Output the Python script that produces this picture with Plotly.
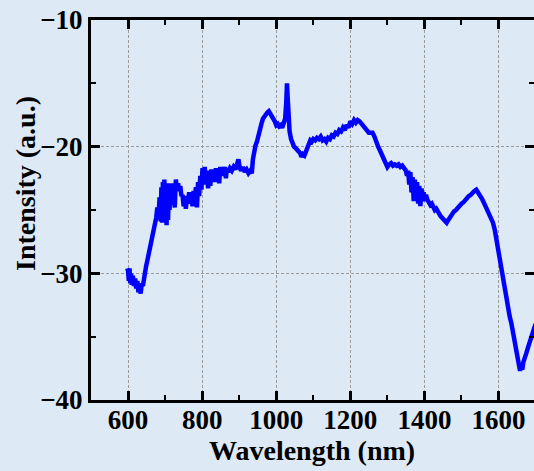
import plotly.graph_objects as go

wavelength = [598, 600, 602, 604, 606, 608, 610, 613, 616, 619, 622, 625, 628, 631, 634, 637, 640, 643, 646, 649,
              652, 655, 658, 661, 664, 667, 670, 673, 676, 679, 682, 685, 688, 690, 692, 694, 696, 698, 700, 702,
              704, 706, 708, 710, 712, 714, 716, 718, 720, 723, 726, 729, 732, 735, 738, 741, 744, 747, 750, 753,
              756, 759, 762, 765, 768, 771, 774, 777, 780, 783, 786, 789, 792, 795, 798, 801, 804, 807, 810, 813,
              816, 819, 822, 825, 828, 831, 834, 837, 840, 843, 846, 849, 852, 855, 858, 861, 864, 867, 870, 875,
              880, 885, 890, 895, 898, 901, 905, 910, 915, 920, 925, 930, 934, 937, 940, 944, 948, 952, 956, 960,
              964, 968, 972, 976, 980, 984, 988, 992, 996, 1000, 1004, 1008, 1012, 1016, 1020, 1024, 1027, 1029, 1031, 1033,
              1036, 1040, 1044, 1048, 1052, 1056, 1060, 1064, 1068, 1072, 1076, 1080, 1084, 1088, 1092, 1096, 1100, 1105, 1110, 1115,
              1120, 1125, 1130, 1135, 1140, 1145, 1150, 1155, 1160, 1165, 1170, 1175, 1180, 1185, 1190, 1195, 1200, 1205, 1210, 1215,
              1220, 1225, 1230, 1235, 1240, 1245, 1250, 1255, 1260, 1265, 1270, 1275, 1280, 1285, 1290, 1295, 1300, 1305, 1310, 1315,
              1320, 1325, 1330, 1335, 1340, 1345, 1350, 1353, 1356, 1359, 1362, 1365, 1368, 1371, 1374, 1377, 1380, 1383, 1386, 1389,
              1392, 1395, 1398, 1401, 1404, 1408, 1412, 1416, 1420, 1424, 1428, 1432, 1436, 1440, 1444, 1448, 1452, 1456, 1460, 1464,
              1468, 1472, 1476, 1480, 1485, 1490, 1495, 1500, 1505, 1510, 1515, 1520, 1525, 1530, 1535, 1540, 1545, 1550, 1555, 1560,
              1565, 1570, 1575, 1580, 1585, 1590, 1595, 1600, 1605, 1610, 1615, 1620, 1625, 1630, 1635, 1640, 1645, 1650, 1655, 1658,
              1661, 1664, 1667, 1670, 1675, 1680, 1685, 1690, 1695, 1700]

intensity = [-29.6, -29.8, -30.6, -29.6, -30.8, -30.0, -30.9, -30.2, -31.0, -30.4, -31.2, -30.6, -31.5, -30.9, -31.6, -30.8, -31.0, -30.3, -30.0, -29.4,
             -29.0, -28.6, -28.2, -27.9, -27.6, -27.0, -26.6, -26.0, -25.6, -24.8, -25.7, -24.0, -25.9, -23.2, -26.0, -22.8, -25.5, -22.6, -25.2, -23.0,
             -26.2, -23.4, -25.8, -22.9, -25.0, -23.3, -24.6, -22.9, -24.4, -23.6, -24.8, -22.6, -23.4, -22.9, -23.5, -23.1, -23.9, -23.8, -24.7, -23.9,
             -24.9, -24.0, -24.3, -23.6, -24.5, -23.9, -24.7, -23.5, -24.4, -23.2, -24.8, -22.8, -23.9, -22.3, -23.4, -21.7, -22.9, -21.6, -23.0, -21.9,
             -23.3, -22.0, -23.1, -21.8, -22.7, -21.9, -22.8, -21.7, -22.6, -21.9, -22.9, -21.6, -22.3, -21.8, -22.2, -21.6, -22.5, -21.7, -22.0, -21.7,
             -21.9, -21.6, -21.8, -21.3, -21.0, -21.6, -21.9, -21.6, -22.0, -21.8, -22.1, -21.9, -22.1, -21.0, -20.3, -19.9, -19.6, -19.0, -18.6, -18.2,
             -17.8, -17.6, -17.4, -17.3, -17.2, -17.4, -17.5, -17.8, -18.0, -18.3, -18.2, -18.4, -18.3, -18.5, -18.1, -17.8, -16.5, -15.0, -16.2, -18.0,
             -18.8, -19.4, -19.8, -20.0, -20.1, -20.2, -20.3, -20.5, -20.8, -20.6, -20.7, -20.4, -20.1, -19.7, -19.5, -19.6, -19.4, -19.5, -19.3, -19.4,
             -19.2, -19.5, -19.4, -19.6, -19.3, -19.4, -19.1, -19.2, -18.9, -19.0, -18.7, -18.8, -18.5, -18.7, -18.3, -18.5, -18.0, -18.2, -17.9, -18.1,
             -17.9, -18.0, -18.2, -18.4, -18.6, -18.8, -18.9, -18.9, -18.9, -19.2, -19.7, -20.0, -20.3, -20.6, -20.8, -21.1, -21.6, -21.4, -21.3, -21.5,
             -21.4, -21.5, -21.4, -21.6, -21.5, -21.7, -21.9, -22.3, -21.9, -23.0, -22.0, -23.6, -22.4, -24.3, -22.6, -23.8, -22.8, -24.5, -23.1, -24.7,
             -23.3, -24.2, -23.6, -24.3, -23.8, -24.2, -24.4, -24.6, -24.5, -24.8, -25.0, -24.9, -25.2, -25.3, -25.5, -25.6, -25.8, -25.9, -26.0, -25.8,
             -25.6, -25.4, -25.3, -25.1, -25.0, -24.8, -24.7, -24.5, -24.4, -24.2, -24.1, -23.9, -23.8, -23.6, -23.5, -23.4, -23.6, -23.9, -24.1, -24.4,
             -24.7, -25.0, -25.4, -25.7, -26.0, -26.6, -27.5, -28.4, -29.4, -30.3, -31.2, -32.0, -32.7, -33.4, -34.0, -34.9, -35.6, -36.4, -37.2, -37.7,
             -37.3, -37.6, -37.0, -36.8, -36.3, -35.8, -35.3, -34.8, -34.4, -34.0]

x_tick_vals = [600, 800, 1000, 1200, 1400, 1600]
y_tick_vals = [-10, -20, -30, -40]

BG = "#dde9f5"
FONT = dict(family="Liberation Serif", size=27, color="black", weight="bold")

fig = go.Figure()
fig.add_trace(go.Scatter(x=wavelength, y=intensity, mode="lines",
                         line=dict(color="#0000ff", width=4.5), showlegend=False))

common = dict(showgrid=True, gridcolor="#9a9a9a", griddash="3px,2px", gridwidth=1,
              zeroline=False, ticks="inside", ticklen=9, tickwidth=3, tickcolor="black",
              tickfont=FONT, automargin=False)

fig.update_layout(
    width=534, height=471,
    margin=dict(l=91, r=0, t=20, b=71),
    paper_bgcolor=BG, plot_bgcolor=BG,
    xaxis=dict(range=[500, 1695.7], tickvals=x_tick_vals, showline=True, linewidth=3,
               linecolor="black", mirror="ticks", ticklabelstandoff=-6,
               minor=dict(dtick=100, tick0=500, ticks="inside", ticklen=5, tickwidth=2,
                          tickcolor="black", showgrid=False),
               **common),
    yaxis=dict(range=[-40, -10], tickvals=y_tick_vals, showline=True, linewidth=3,
               linecolor="black", mirror=False,
               minor=dict(dtick=5, tick0=-40, ticks="inside", ticklen=5, tickwidth=2,
                          tickcolor="black", showgrid=False),
               **common),
    yaxis2=dict(range=[-40, -10], overlaying="y", side="right", showline=False,
                showgrid=False, zeroline=False, ticks="inside", ticklen=9, tickwidth=3,
                tickcolor="black", tickvals=y_tick_vals, showticklabels=False, automargin=False,
                minor=dict(dtick=5, tick0=-40, ticks="inside", ticklen=5, tickwidth=2,
                           tickcolor="black")),
    annotations=[
        dict(text="Wavelength (nm)", xref="paper", yref="paper", x=0.498, y=-0.134,
             xanchor="center", yanchor="middle", showarrow=False,
             font=dict(family="Liberation Serif", size=28, color="black", weight="bold")),
        dict(text="Intensity (a.u.)", xref="paper", yref="paper", x=-0.149, y=0.571,
             xanchor="center", yanchor="middle", textangle=-90, showarrow=False,
             font=dict(family="Liberation Serif", size=28, color="black", weight="bold")),
    ],
)
fig.add_trace(go.Scatter(x=[None], y=[None], yaxis="y2", showlegend=False, hoverinfo="skip"))

fig.write_html(
    "out.html",
    config={"displayModeBar": False},
    post_script="document.body.style.margin='0';document.body.style.overflow='hidden';"
                "document.body.style.background='#dde9f5';",
)
